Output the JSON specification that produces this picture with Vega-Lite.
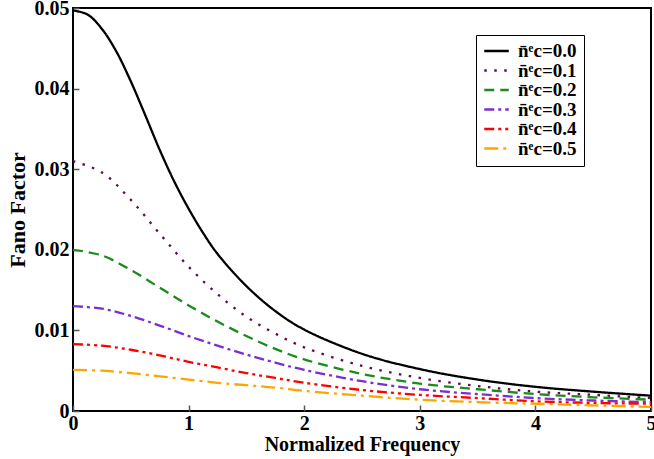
{
  "$schema": "https://vega.github.io/schema/vega-lite/v6.json",
  "width": 578,
  "height": 403,
  "padding": {"left": 73, "top": 8, "right": 3, "bottom": 48},
  "autosize": {"type": "none"},
  "background": "white",
  "config": {
    "view": {"stroke": "black", "strokeWidth": 2},
    "font": "Liberation Serif"
  },
  "datasets": {
    "curves": [
      {"x": 0, "y": 0.0497, "s": "n̄ᵉc=0.0"},
      {"x": 0.125, "y": 0.0492, "s": "n̄ᵉc=0.0"},
      {"x": 0.25, "y": 0.0474, "s": "n̄ᵉc=0.0"},
      {"x": 0.375, "y": 0.0446, "s": "n̄ᵉc=0.0"},
      {"x": 0.5, "y": 0.0409, "s": "n̄ᵉc=0.0"},
      {"x": 0.625, "y": 0.0367, "s": "n̄ᵉc=0.0"},
      {"x": 0.75, "y": 0.0324, "s": "n̄ᵉc=0.0"},
      {"x": 0.875, "y": 0.0285, "s": "n̄ᵉc=0.0"},
      {"x": 1, "y": 0.0251, "s": "n̄ᵉc=0.0"},
      {"x": 1.125, "y": 0.0221, "s": "n̄ᵉc=0.0"},
      {"x": 1.25, "y": 0.0195, "s": "n̄ᵉc=0.0"},
      {"x": 1.5, "y": 0.0155, "s": "n̄ᵉc=0.0"},
      {"x": 1.75, "y": 0.0124, "s": "n̄ᵉc=0.0"},
      {"x": 2, "y": 0.0101, "s": "n̄ᵉc=0.0"},
      {"x": 2.5, "y": 0.0071, "s": "n̄ᵉc=0.0"},
      {"x": 3, "y": 0.0052, "s": "n̄ᵉc=0.0"},
      {"x": 3.5, "y": 0.0039, "s": "n̄ᵉc=0.0"},
      {"x": 4, "y": 0.003, "s": "n̄ᵉc=0.0"},
      {"x": 4.5, "y": 0.0024, "s": "n̄ᵉc=0.0"},
      {"x": 5, "y": 0.0019, "s": "n̄ᵉc=0.0"},

      {"x": 0, "y": 0.031, "s": "n̄ᵉc=0.1"},
      {"x": 0.25, "y": 0.0296, "s": "n̄ᵉc=0.1"},
      {"x": 0.5, "y": 0.0262, "s": "n̄ᵉc=0.1"},
      {"x": 0.75, "y": 0.022, "s": "n̄ᵉc=0.1"},
      {"x": 1, "y": 0.0179, "s": "n̄ᵉc=0.1"},
      {"x": 1.25, "y": 0.0145, "s": "n̄ᵉc=0.1"},
      {"x": 1.5, "y": 0.0117, "s": "n̄ᵉc=0.1"},
      {"x": 1.75, "y": 0.0096, "s": "n̄ᵉc=0.1"},
      {"x": 2, "y": 0.0079, "s": "n̄ᵉc=0.1"},
      {"x": 2.5, "y": 0.0056, "s": "n̄ᵉc=0.1"},
      {"x": 3, "y": 0.0041, "s": "n̄ᵉc=0.1"},
      {"x": 3.5, "y": 0.0031, "s": "n̄ᵉc=0.1"},
      {"x": 4, "y": 0.0024, "s": "n̄ᵉc=0.1"},
      {"x": 4.5, "y": 0.002, "s": "n̄ᵉc=0.1"},
      {"x": 5, "y": 0.0016, "s": "n̄ᵉc=0.1"},

      {"x": 0, "y": 0.02, "s": "n̄ᵉc=0.2"},
      {"x": 0.25, "y": 0.0193, "s": "n̄ᵉc=0.2"},
      {"x": 0.5, "y": 0.0175, "s": "n̄ᵉc=0.2"},
      {"x": 0.75, "y": 0.0153, "s": "n̄ᵉc=0.2"},
      {"x": 1, "y": 0.0131, "s": "n̄ᵉc=0.2"},
      {"x": 1.25, "y": 0.0111, "s": "n̄ᵉc=0.2"},
      {"x": 1.5, "y": 0.0093, "s": "n̄ᵉc=0.2"},
      {"x": 1.75, "y": 0.0077, "s": "n̄ᵉc=0.2"},
      {"x": 2, "y": 0.0064, "s": "n̄ᵉc=0.2"},
      {"x": 2.5, "y": 0.0046, "s": "n̄ᵉc=0.2"},
      {"x": 3, "y": 0.0034, "s": "n̄ᵉc=0.2"},
      {"x": 3.5, "y": 0.0027, "s": "n̄ᵉc=0.2"},
      {"x": 4, "y": 0.0021, "s": "n̄ᵉc=0.2"},
      {"x": 4.5, "y": 0.0017, "s": "n̄ᵉc=0.2"},
      {"x": 5, "y": 0.0014, "s": "n̄ᵉc=0.2"},

      {"x": 0, "y": 0.013, "s": "n̄ᵉc=0.3"},
      {"x": 0.25, "y": 0.0127, "s": "n̄ᵉc=0.3"},
      {"x": 0.5, "y": 0.0118, "s": "n̄ᵉc=0.3"},
      {"x": 0.75, "y": 0.0106, "s": "n̄ᵉc=0.3"},
      {"x": 1, "y": 0.0093, "s": "n̄ᵉc=0.3"},
      {"x": 1.25, "y": 0.0081, "s": "n̄ᵉc=0.3"},
      {"x": 1.5, "y": 0.007, "s": "n̄ᵉc=0.3"},
      {"x": 1.75, "y": 0.006, "s": "n̄ᵉc=0.3"},
      {"x": 2, "y": 0.0051, "s": "n̄ᵉc=0.3"},
      {"x": 2.5, "y": 0.0037, "s": "n̄ᵉc=0.3"},
      {"x": 3, "y": 0.0027, "s": "n̄ᵉc=0.3"},
      {"x": 3.5, "y": 0.0021, "s": "n̄ᵉc=0.3"},
      {"x": 4, "y": 0.0016, "s": "n̄ᵉc=0.3"},
      {"x": 4.5, "y": 0.0013, "s": "n̄ᵉc=0.3"},
      {"x": 5, "y": 0.0011, "s": "n̄ᵉc=0.3"},

      {"x": 0, "y": 0.0083, "s": "n̄ᵉc=0.4"},
      {"x": 0.25, "y": 0.0081, "s": "n̄ᵉc=0.4"},
      {"x": 0.5, "y": 0.0076, "s": "n̄ᵉc=0.4"},
      {"x": 0.75, "y": 0.0069, "s": "n̄ᵉc=0.4"},
      {"x": 1, "y": 0.0061, "s": "n̄ᵉc=0.4"},
      {"x": 1.25, "y": 0.0054, "s": "n̄ᵉc=0.4"},
      {"x": 1.5, "y": 0.0047, "s": "n̄ᵉc=0.4"},
      {"x": 1.75, "y": 0.0041, "s": "n̄ᵉc=0.4"},
      {"x": 2, "y": 0.0035, "s": "n̄ᵉc=0.4"},
      {"x": 2.5, "y": 0.0026, "s": "n̄ᵉc=0.4"},
      {"x": 3, "y": 0.002, "s": "n̄ᵉc=0.4"},
      {"x": 3.5, "y": 0.0016, "s": "n̄ᵉc=0.4"},
      {"x": 4, "y": 0.0012, "s": "n̄ᵉc=0.4"},
      {"x": 4.5, "y": 0.001, "s": "n̄ᵉc=0.4"},
      {"x": 5, "y": 0.0009, "s": "n̄ᵉc=0.4"},

      {"x": 0, "y": 0.0051, "s": "n̄ᵉc=0.5"},
      {"x": 0.25, "y": 0.005, "s": "n̄ᵉc=0.5"},
      {"x": 0.5, "y": 0.0047, "s": "n̄ᵉc=0.5"},
      {"x": 0.75, "y": 0.0043, "s": "n̄ᵉc=0.5"},
      {"x": 1, "y": 0.0039, "s": "n̄ᵉc=0.5"},
      {"x": 1.25, "y": 0.0035, "s": "n̄ᵉc=0.5"},
      {"x": 1.5, "y": 0.0032, "s": "n̄ᵉc=0.5"},
      {"x": 1.75, "y": 0.0029, "s": "n̄ᵉc=0.5"},
      {"x": 2, "y": 0.0025, "s": "n̄ᵉc=0.5"},
      {"x": 2.5, "y": 0.0019, "s": "n̄ᵉc=0.5"},
      {"x": 3, "y": 0.0014, "s": "n̄ᵉc=0.5"},
      {"x": 3.5, "y": 0.0011, "s": "n̄ᵉc=0.5"},
      {"x": 4, "y": 0.0009, "s": "n̄ᵉc=0.5"},
      {"x": 4.5, "y": 0.0007, "s": "n̄ᵉc=0.5"},
      {"x": 5, "y": 0.0005, "s": "n̄ᵉc=0.5"}
    ]
  },
  "data": {"name": "curves"},
  "mark": {"type": "line", "interpolate": "catmull-rom", "strokeWidth": 2.3, "clip": true},
  "encoding": {
    "x": {
      "field": "x", "type": "quantitative",
      "scale": {"domain": [0, 5], "nice": false, "zero": false},
      "axis": {
        "title": "Normalized Frequency",
        "values": [0, 1, 2, 3, 4, 5],
        "format": "d",
        "grid": false,
        "domain": false,
        "tickSize": -6,
        "tickColor": "#555",
        "tickWidth": 1.5,
        "labelPadding": 8,
        "labelFont": "Liberation Serif",
        "labelFontWeight": "bold",
        "labelFontSize": 20,
        "labelColor": "black",
        "labelFlush": false,
        "titleFont": "Liberation Serif",
        "titleFontWeight": "bold",
        "titleFontSize": 20,
        "titleColor": "black",
        "titlePadding": 1
      }
    },
    "y": {
      "field": "y", "type": "quantitative",
      "scale": {"domain": [0, 0.05], "nice": false},
      "axis": {
        "title": "Fano Factor",
        "values": [0, 0.01, 0.02, 0.03, 0.04, 0.05],
        "labelExpr": "datum.value == 0 ? '0' : format(datum.value, '.2f')",
        "grid": false,
        "domain": false,
        "tickSize": -6,
        "tickColor": "#555",
        "tickWidth": 1.5,
        "labelPadding": 10,
        "labelFont": "Liberation Serif",
        "labelFontWeight": "bold",
        "labelFontSize": 20,
        "labelColor": "black",
        "labelFlush": false,
        "titleFont": "Liberation Serif",
        "titleFontWeight": "bold",
        "titleFontSize": 22,
        "titleColor": "black",
        "titlePadding": 5
      }
    },
    "color": {
      "field": "s", "type": "nominal",
      "scale": {
        "domain": ["n̄ᵉc=0.0", "n̄ᵉc=0.1", "n̄ᵉc=0.2", "n̄ᵉc=0.3", "n̄ᵉc=0.4", "n̄ᵉc=0.5"],
        "range": ["#000000", "#660a4d", "#1a8c1a", "#7b2fd0", "#ff0000", "#ffa500"]
      },
      "legend": {
        "title": null,
        "orient": "none",
        "legendX": 403,
        "legendY": 27,
        "strokeColor": "black",
        "fillColor": "white",
        "padding": 7,
        "symbolType": "stroke",
        "symbolSize": 600,
        "symbolStrokeWidth": 2.5,
        "clipHeight": 18,
        "labelFont": "Liberation Serif",
        "labelFontWeight": "bold",
        "labelFontSize": 19,
        "labelColor": "black",
        "rowPadding": 0.5,
        "labelOffset": 8
      }
    },
    "strokeDash": {
      "field": "s", "type": "nominal",
      "scale": {
        "domain": ["n̄ᵉc=0.0", "n̄ᵉc=0.1", "n̄ᵉc=0.2", "n̄ᵉc=0.3", "n̄ᵉc=0.4", "n̄ᵉc=0.5"],
        "range": [[1, 0], [2.5, 7.5], [10, 6], [10, 4, 3, 4], [10, 4, 3, 4, 3, 4], [14, 5, 3, 5]]
      },
      "legend": null
    }
  }
}
